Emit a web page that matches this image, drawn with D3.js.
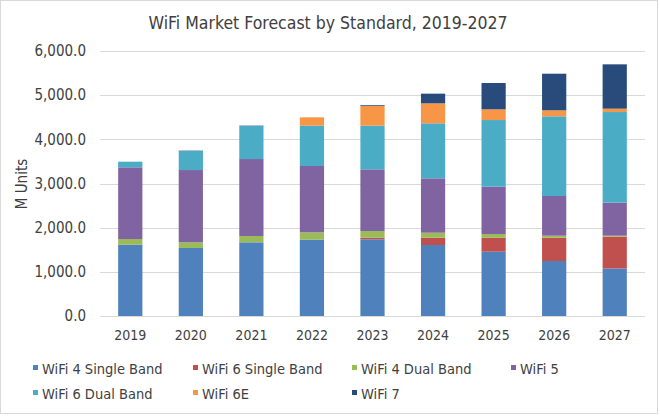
<!DOCTYPE html>
<html>
<head>
<meta charset="utf-8">
<script src="https://cdn.jsdelivr.net/npm/d3@7"></script>
<style>
  body { margin: 0; background: #fff; }
  svg text { font-family: "DejaVu Sans Condensed", "DejaVu Sans", sans-serif; fill: #404040; }
</style>
</head>
<body>
<svg id="chart"></svg>
<script>
/////////////////////////////////////////////////
/////////////////// data ////////////////////////
/////////////////////////////////////////////////

var years = ["2019", "2020", "2021", "2022", "2023", "2024", "2025", "2026", "2027"];
var seriesNames = ["WiFi 4 Single Band", "WiFi 6 Single Band", "WiFi 4 Dual Band", "WiFi 5",
                   "WiFi 6 Dual Band", "WiFi 6E", "WiFi 7"];

var wifi4Single = [1614, 1540, 1668, 1728, 1736, 1607, 1456, 1245, 1075];
var wifi6Single = [0, 0, 0, 0, 37, 166, 317, 528, 721];
var wifi4Dual   = [129, 128, 143, 166, 151, 113, 83, 45, 22];
var wifi5       = [1623, 1637, 1743, 1502, 1396, 1231, 1072, 899, 748];
var wifi6Dual   = [128, 431, 748, 913, 989, 1245, 1509, 1804, 2052];
var wifi6E      = [0, 0, 0, 189, 445, 453, 242, 136, 76];
var wifi7       = [0, 8, 8, 0, 18, 219, 596, 829, 1004];

var yTicks = [0, 1000, 2000, 3000, 4000, 5000, 6000];

var colors = ["#4F81BD", "#C0504D", "#9BBB59", "#8064A2", "#4BACC6", "#F79646", "#284B7B"];

/////////////////////////////////////////////////
/////////////////// chart ///////////////////////
/////////////////////////////////////////////////

var svgWidth = 660, svgHeight = 416;
var plotLeft = 100, plotRight = 645, plotTop = 51, plotBottom = 316;

var svg = d3.select("#chart")
.attr("width", svgWidth)
.attr("height", svgHeight);

// outer frame like the Excel chart area
svg.append("rect")
.attr("x", 0.5).attr("y", 0.5)
.attr("width", 657).attr("height", 413)
.attr("fill", "#fff")
.attr("stroke", "#d9d9d9");

var allSeries = [wifi4Single, wifi6Single, wifi4Dual, wifi5, wifi6Dual, wifi6E, wifi7];
var table = years.map(function (y, i) {
  var row = {year: y};
  seriesNames.forEach(function (name, k) { row[name] = allSeries[k][i]; });
  return row;
});

var stack = d3.stack().keys(seriesNames)(table);

var x = d3.scaleBand()
.domain(years)
.range([plotLeft, plotRight])
.paddingInner(0.6)
.paddingOuter(0.3);

var y = d3.scaleLinear()
.domain([0, 6000])
.range([plotBottom, plotTop]);

// gridlines
svg.append("g")
.selectAll("line")
.data(yTicks)
.enter()
.append("line")
.attr("x1", plotLeft)
.attr("x2", plotRight)
.attr("y1", function (d) { return Math.round(y(d)) + 0.5; })
.attr("y2", function (d) { return Math.round(y(d)) + 0.5; })
.attr("stroke", "#d9d9d9")
.attr("stroke-width", 1);

// y tick labels
var yAxis = d3.axisLeft(y)
.tickValues(yTicks)
.tickFormat(d3.format(",.1f"))
.tickSize(0)
.tickPadding(14);

var gy = svg.append("g")
.attr("transform", "translate(" + plotLeft + ",0)")
.call(yAxis);
gy.select(".domain").remove();
gy.selectAll("text").style("font-size", "15px").attr("fill", "#404040");

// bars
var layer = svg.append("g")
.selectAll("g")
.data(stack)
.enter()
.append("g")
.attr("fill", function (d, i) { return colors[i]; });

layer.selectAll("rect")
.data(function (d) { return d; })
.enter()
.append("rect")
.attr("x", function (d) { return x(d.data.year); })
.attr("width", x.bandwidth())
.attr("y", function (d) { return y(d[1]); })
.attr("height", function (d) { return y(d[0]) - y(d[1]); });

// x axis labels
var xAxis = d3.axisBottom(x).tickSize(0).tickPadding(14);
var gx = svg.append("g")
.attr("transform", "translate(0," + plotBottom + ")")
.call(xAxis);
gx.select(".domain").remove();
gx.selectAll("text").style("font-size", "14px").attr("fill", "#404040");

// title
svg.append("text")
.attr("x", 328)
.attr("y", 29)
.attr("text-anchor", "middle")
.style("font-size", "17.5px")
.text("WiFi Market Forecast by Standard, 2019-2027");

// y axis title
svg.append("text")
.attr("transform", "translate(27,184) rotate(-90)")
.attr("text-anchor", "middle")
.style("font-size", "15px")
.text("M Units");

// legend
var legendCols = [33, 193, 352, 511];
var legendRows = [374, 399];

var legend = svg.append("g")
.selectAll("g")
.data(seriesNames)
.enter()
.append("g")
.attr("transform", function (d, i) {
  return "translate(" + legendCols[i % 4] + "," + legendRows[Math.floor(i / 4)] + ")";
});

legend.append("rect")
.attr("x", 0)
.attr("y", -9)
.attr("width", 5)
.attr("height", 5)
.attr("fill", function (d, i) { return colors[i]; });

legend.append("text")
.attr("x", 9)
.attr("y", 0)
.style("font-size", "14.5px")
.text(function (d) { return d; });
</script>
</body>
</html>
